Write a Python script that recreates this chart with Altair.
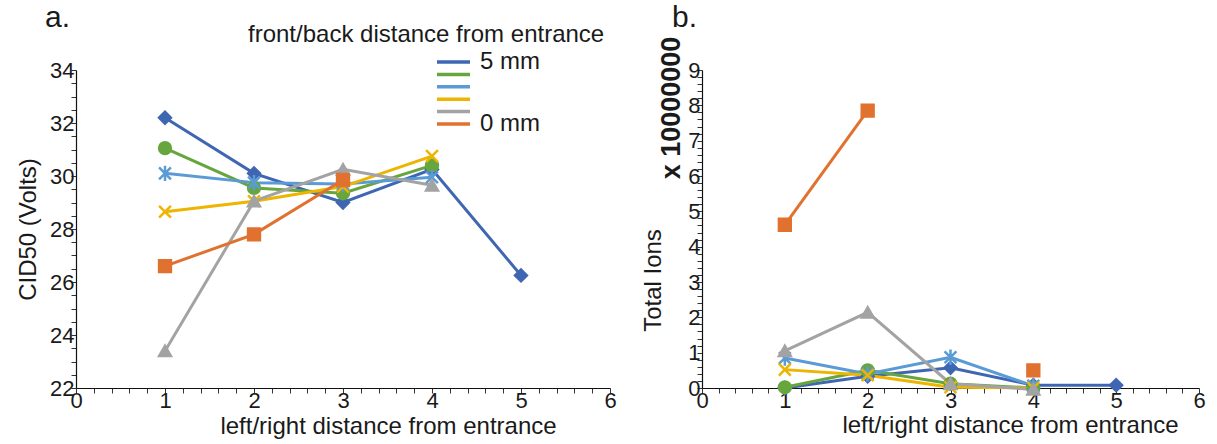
import altair as alt
import pandas as pd

# ---------------- data ----------------
x_vals = [1, 2, 3, 4, 5]
series = ["5 mm", "4 mm", "3 mm", "2 mm", "1 mm", "0 mm"]
legend_labels = ["5 mm", "", "", "", "", "0 mm"]
colors = ["#3F66B3", "#67A63F", "#5B9BD5", "#EDB400", "#A3A3A3", "#E0712F"]
shapes = ["diamond", "circle", "M-1,-1L1,1M-1,1L1,-1M0,-1.3L0,1.3",
          "M-1,-1L1,1M-1,1L1,-1", "triangle-up", "square"]

# panel a: CID50 (Volts)
cid_5mm = [32.2, 30.1, 29.0, 30.25, 26.25]
cid_4mm = [31.05, 29.55, 29.35, 30.4, None]
cid_3mm = [30.1, 29.75, 29.7, 29.95, None]
cid_2mm = [28.65, 29.05, 29.6, 30.75, None]
cid_1mm = [23.4, 29.05, 30.25, 29.65, None]
cid_0mm = [26.6, 27.8, 29.85, None, None]

# panel b: Total Ions (x 10000000)
ions_5mm = [0.0, 0.33, 0.57, 0.08, 0.08]
ions_4mm = [0.02, 0.5, 0.12, 0.0, None]
ions_3mm = [0.85, 0.4, 0.87, 0.06, None]
ions_2mm = [0.52, 0.36, 0.02, 0.0, None]
ions_1mm = [1.05, 2.14, 0.12, -0.04, None]
ions_0mm = [4.62, 7.85, None, 0.5, None]

x_ticks = [round(i * 0.2, 1) for i in range(31)]
cid_ticks = [22 + i * 0.5 for i in range(25)]
ion_ticks = [round(i * 0.2, 1) for i in range(46)]


def long_df(cols):
    rows = []
    for s, vals in zip(series, cols):
        seg = 0
        for x, v in zip(x_vals, vals):
            if v is None:
                seg += 1
                continue
            rows.append({"x": x, "y": v, "series": s, "seg": f"{s}-{seg}"})
    return pd.DataFrame(rows)


df_a = long_df([cid_5mm, cid_4mm, cid_3mm, cid_2mm, cid_1mm, cid_0mm])
df_b = long_df([ions_5mm, ions_4mm, ions_3mm, ions_2mm, ions_1mm, ions_0mm])
legend_df = pd.DataFrame({"series": series, "label": legend_labels})

FONT = "Liberation Sans"
TXT = "#1a1a1a"
int_label = "abs(datum.value - round(datum.value)) < 0.001 ? format(datum.value, 'd') : ''"
even_label = "abs(datum.value/2 - round(datum.value/2)) < 0.001 ? format(datum.value, 'd') : ''"


def cscale():
    return alt.Scale(domain=series, range=colors)


def x_enc(title_x, title_y):
    return alt.X(
        "x:Q",
        scale=alt.Scale(domain=[0, 6], nice=False, zero=False),
        axis=alt.Axis(values=x_ticks, labelExpr=int_label, labelOverlap=False,
                      title="left/right distance from entrance",
                      titleX=title_x, titleY=title_y, titleAlign="center",
                      titleBaseline="middle", tickSize=5, labelPadding=-3,
                      labelBound=False, labelFlush=False),
    )


def text_layer(t, xx, yy, size, weight="normal", angle=None, align="left"):
    kw = dict(fontSize=size, font=FONT, fontWeight=weight, color=TXT,
              align=align, baseline="middle")
    if angle:
        kw["angle"] = angle
    return alt.Chart(pd.DataFrame({"t": [t]})).mark_text(**kw).encode(
        x=alt.value(xx), y=alt.value(yy), text="t:N")


def data_layers(df, xe, ye):
    base = alt.Chart(df)
    lines = base.mark_line(strokeWidth=3).encode(
        x=xe, y=ye,
        color=alt.Color("series:N", scale=cscale(), legend=None),
        detail="seg:N",
    )
    points = base.mark_point(filled=True, size=140, strokeWidth=2.5, opacity=1).encode(
        x=xe, y=ye,
        fill=alt.Fill("series:N", scale=cscale(), legend=None),
        stroke=alt.Stroke("series:N", scale=cscale(), legend=None),
        shape=alt.Shape("series:N", scale=alt.Scale(domain=series, range=shapes), legend=None),
    )
    return alt.layer(lines, points)


y_a = alt.Y(
    "y:Q",
    scale=alt.Scale(domain=[22, 34], nice=False, zero=False),
    axis=alt.Axis(values=cid_ticks, labelExpr=even_label, labelOverlap=False,
                  title="CID50 (Volts)", titleX=-48, titleY=159,
                  titleBaseline="middle", titleAlign="center",
                  tickSize=5, labelPadding=-3, labelBound=False, labelFlush=False),
)
y_b = alt.Y(
    "y:Q",
    scale=alt.Scale(domain=[0, 9], nice=False, zero=False),
    axis=alt.Axis(values=ion_ticks, labelExpr=int_label, labelOverlap=False,
                  title="Total Ions", titleX=-49, titleY=210,
                  titleBaseline="middle", titleAlign="center",
                  tickSize=5, labelPadding=-3, labelBound=False, labelFlush=False),
)

# hand-built legend (series -> vertical slot)
leg_y = alt.Y("series:N",
              scale=alt.Scale(type="point", domain=series, range=[-8, 54], padding=0),
              axis=None)
leg_rules = alt.Chart(legend_df).mark_rule(strokeWidth=3.5).encode(
    x=alt.value(361), x2=alt.value(394), y=leg_y,
    color=alt.Color("series:N", scale=cscale(), legend=None),
)
leg_text = alt.Chart(legend_df).mark_text(
    align="left", baseline="middle", fontSize=24, font=FONT, color=TXT
).encode(x=alt.value(404), y=leg_y, text="label:N")
legend_layer = alt.layer(leg_rules, leg_text)

panel_a = alt.layer(
    data_layers(df_a, x_enc(312, 38), y_a),
    legend_layer,
    text_layer("front/back distance from entrance", 172, -35, 24),
    text_layer("a.", -31, -52, 30),
).resolve_scale(y="independent").properties(width=534, height=318)

panel_b = alt.layer(
    data_layers(df_b, x_enc(308, 37), y_b),
    text_layer("b.", -30, -52, 30),
    text_layer("x 10000000", -30, 38, 27, weight="bold", angle=270, align="center"),
).properties(width=497, height=318)

chart = (
    alt.hconcat(panel_a, panel_b, spacing=24)
    .properties(padding={"left": 16, "top": 3, "right": 5, "bottom": 5})
    .configure_view(stroke=None)
    .configure_axis(grid=False, domainColor="#111", domainWidth=1.2,
                    tickColor="#333", tickWidth=1,
                    labelFont=FONT, labelFontSize=22, labelColor=TXT,
                    titleFont=FONT, titleFontSize=24, titleFontWeight="normal",
                    titleColor=TXT)
)

chart.save("out.html", embed_options={"renderer": "svg", "actions": False})
